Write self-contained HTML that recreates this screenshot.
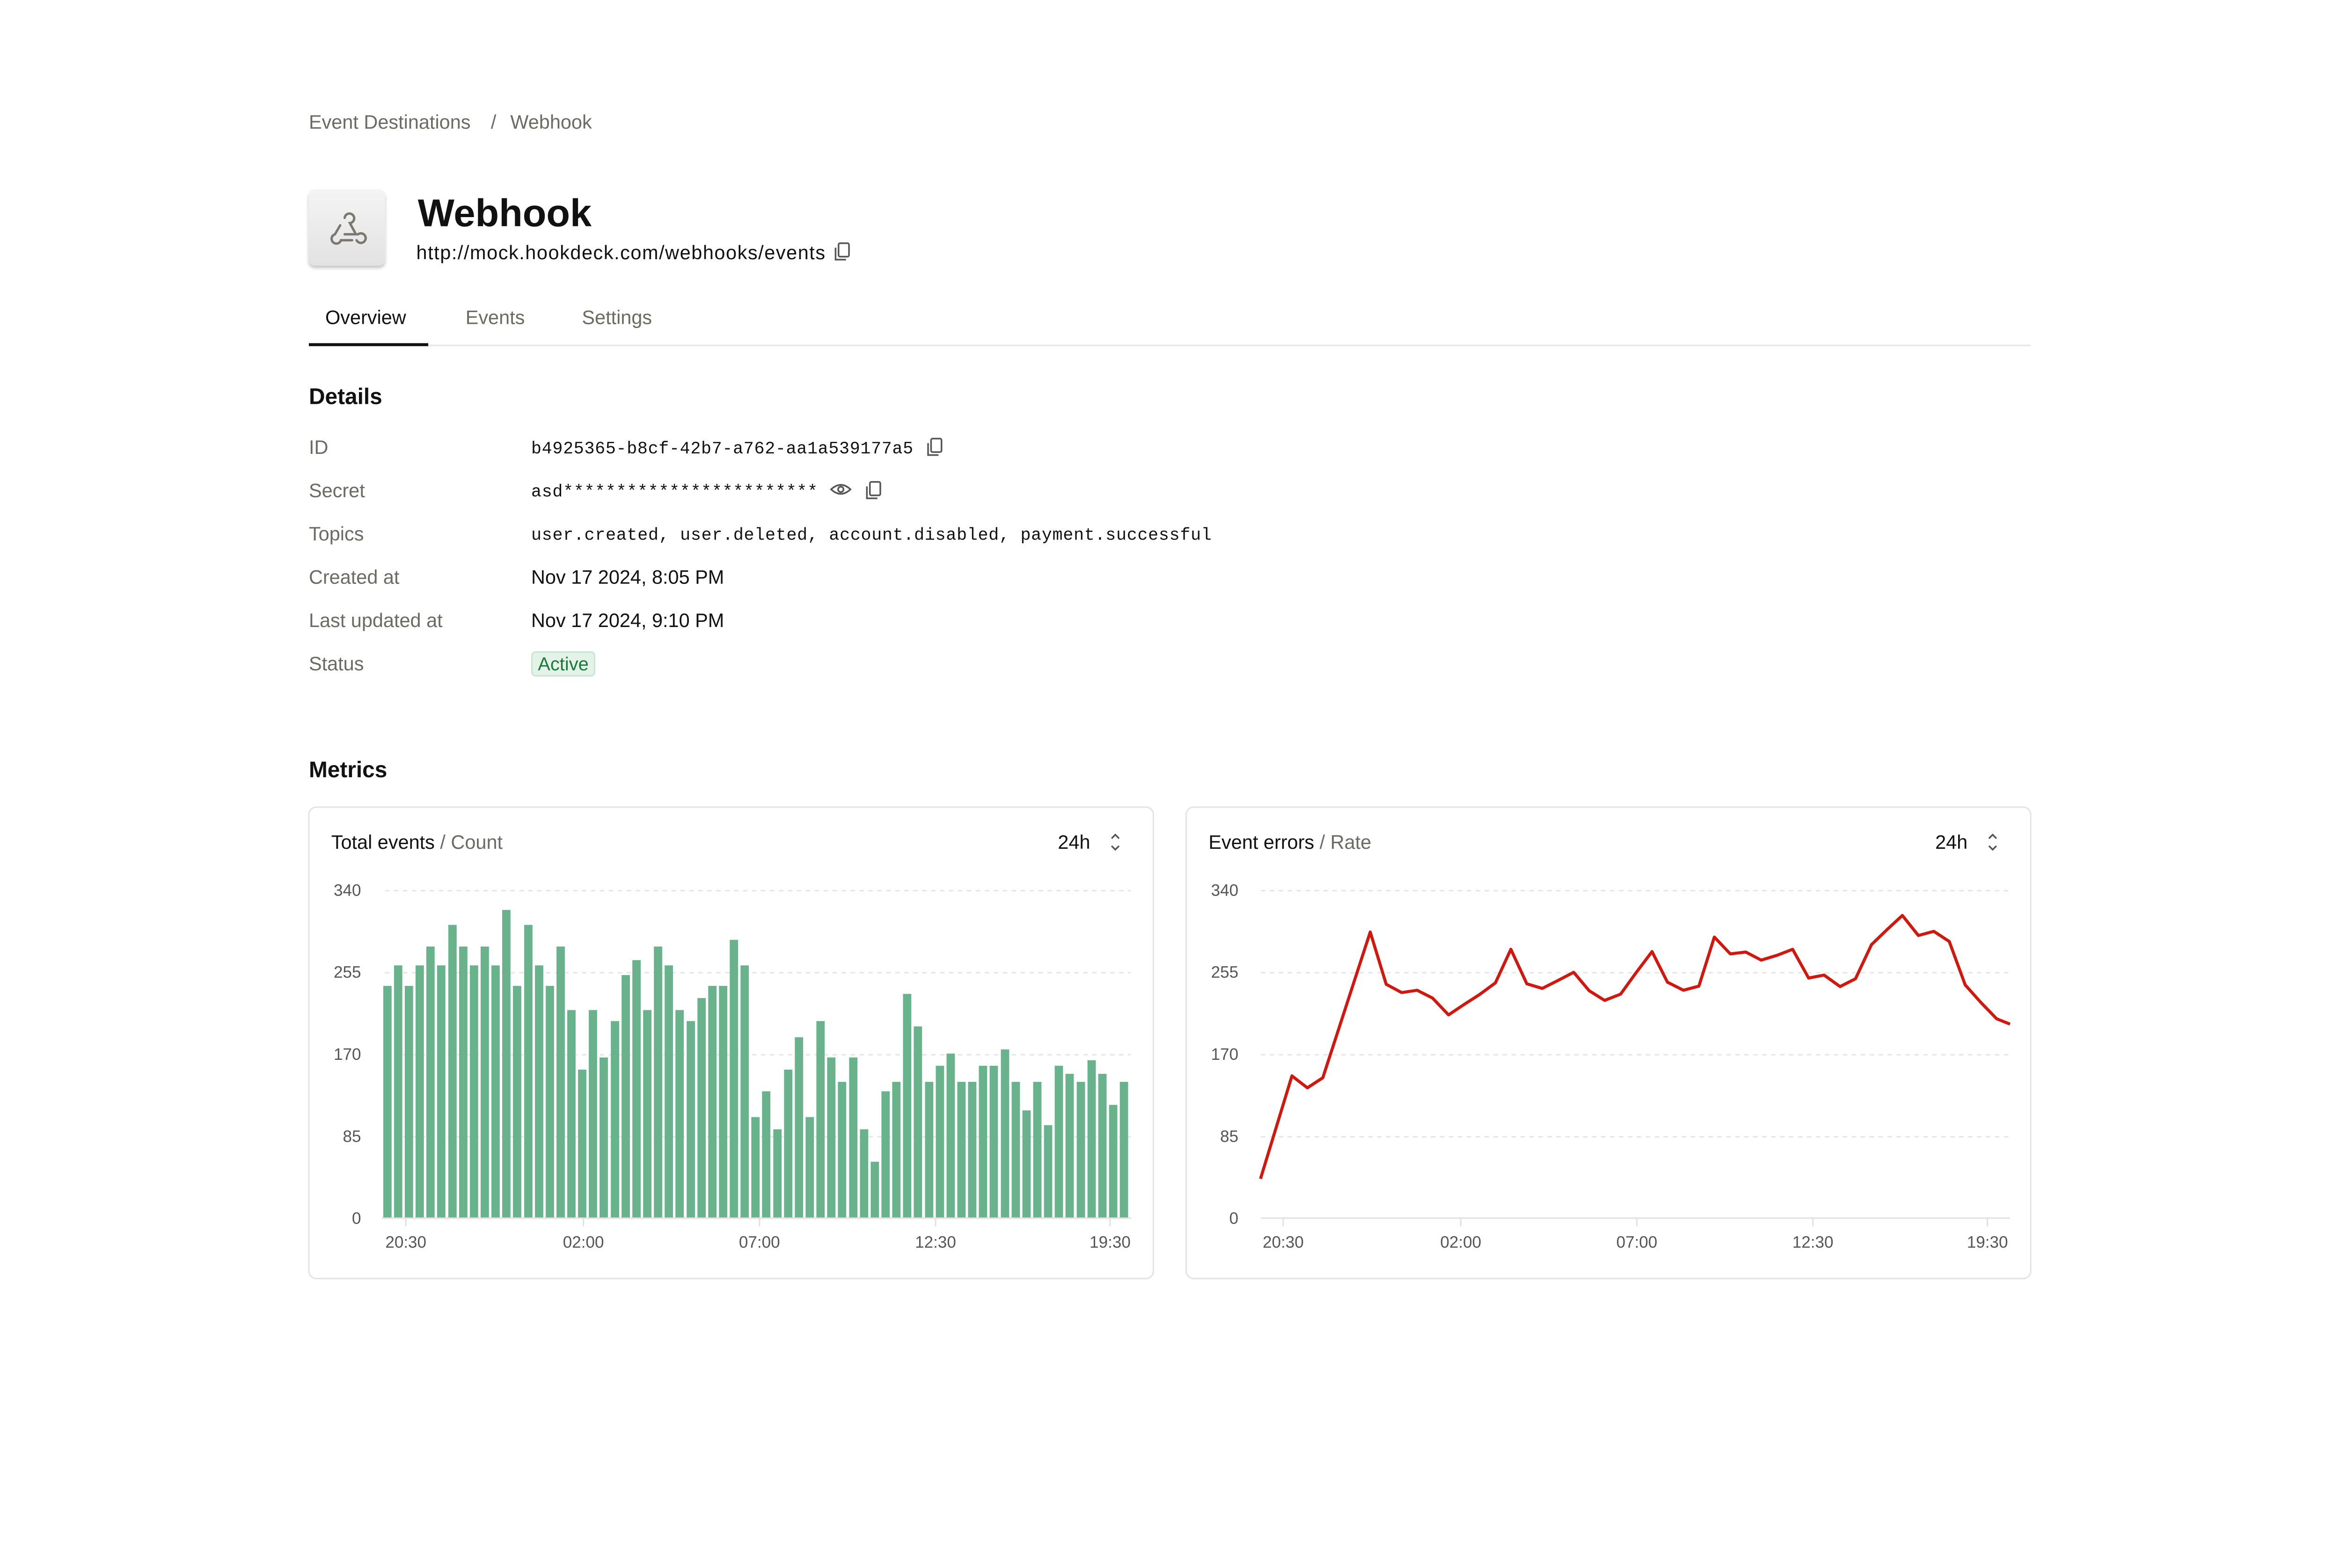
<!DOCTYPE html>
<html><head><meta charset="utf-8"><style>
html,body{margin:0;padding:0;background:#fff;}
svg{display:block}
text{font-family:"Liberation Sans",sans-serif;dominant-baseline:middle}
.m{font-family:"Liberation Mono",monospace}
</style></head><body>
<svg width="5184" height="3351" viewBox="0 0 1626 1051" xmlns="http://www.w3.org/2000/svg">
<rect width="1626" height="1051" fill="#fff"/>
<g transform="translate(0,0.8)">
<text x="207" y="82" font-size="13" fill="#6b6a63">Event Destinations</text>
<text x="329" y="82" font-size="13" fill="#6b6a63">/</text>
<text x="342" y="82" font-size="13" fill="#6b6a63">Webhook</text>
</g>
<defs><linearGradient id="g" x1="0" y1="0" x2="0" y2="1"><stop offset="0" stop-color="#f4f4f4"/><stop offset="1" stop-color="#e2e2e2"/></linearGradient>
<filter id="sh" x="-20%" y="-20%" width="140%" height="150%"><feDropShadow dx="0" dy="1.5" stdDeviation="1.2" flood-color="#000" flood-opacity="0.25"/></filter></defs>
<rect x="207" y="127" width="51" height="51" rx="4" fill="url(#g)" filter="url(#sh)"/>
<g fill="none" stroke="#7a7870" stroke-width="1.6" stroke-linecap="round">
<path d="M231 146 a3.2 3.2 0 1 1 3.5 3.5 L238 156"/>
<path d="M228 151 L224.5 157 a3.2 3.2 0 1 0 4 4 L236 161"/>
<path d="M231 157 L240 157 a3.2 3.2 0 1 1 -1 4"/>
</g>
<g transform="translate(0,0.8)">
<text x="280" y="144" font-size="26" font-weight="bold" fill="#111">Webhook</text>
<text x="279" y="169.5" font-size="13" fill="#111" textLength="274">http://mock.hookdeck.com/webhooks/events</text>
<text x="218" y="213" font-size="13" fill="#111">Overview</text>
<text x="312" y="213" font-size="13" fill="#6b6a63">Events</text>
<text x="390" y="213" font-size="13" fill="#6b6a63">Settings</text>
<text x="207" y="266" font-size="15" font-weight="bold" fill="#111">Details</text>
<g font-size="13" fill="#6b6a63">
<text x="207" y="300">ID</text><text x="207" y="329">Secret</text><text x="207" y="358">Topics</text>
<text x="207" y="387">Created at</text><text x="207" y="416">Last updated at</text><text x="207" y="445">Status</text>
</g>
<g fill="#111">
<text class="m" x="356" y="300" font-size="11.5" textLength="256">b4925365-b8cf-42b7-a762-aa1a539177a5</text>
<text class="m" x="356" y="329" font-size="11.5" textLength="192">asd************************</text>
<text class="m" x="356" y="358" font-size="11.5" textLength="456">user.created, user.deleted, account.disabled, payment.successful</text>
<text x="356" y="387" font-size="13">Nov 17 2024, 8:05 PM</text>
<text x="356" y="416" font-size="13">Nov 17 2024, 9:10 PM</text>
</g>
</g>
<g fill="none" stroke="#555" stroke-width="1.1"><rect x="562" y="163" width="7" height="9" rx="1"/><path d="M560 166 v8 h7"/></g>
<rect x="207" y="231" width="1154" height="1" fill="#e6e6e6"/>
<rect x="207" y="230" width="80" height="2" fill="#111"/>
<g fill="none" stroke="#555" stroke-width="1.1"><rect x="624" y="294" width="7" height="9" rx="1"/><path d="M622 297 v8 h7"/>
<rect x="583" y="323" width="7" height="9" rx="1"/><path d="M581 326 v8 h7"/>
<path d="M557 328 q6.5 -6 13 0 q-6.5 6 -13 0z"/><circle cx="563.5" cy="328" r="1.8"/></g>
<rect x="356.5" y="437" width="42" height="16" rx="2.5" fill="#e3f3e7" stroke="#c9e6d1" stroke-width="1"/>
<text x="377.5" y="446" font-size="12.5" fill="#1b7a3a" text-anchor="middle">Active</text>
<text x="207" y="517" font-size="15" font-weight="bold" fill="#111">Metrics</text>
<rect x="207" y="541" width="566" height="316" rx="5" fill="#fff" stroke="#e4e4e4"/>
<rect x="795" y="541" width="566" height="316" rx="5" fill="#fff" stroke="#e4e4e4"/>
<text x="222" y="565.5" font-size="13" fill="#111">Total events <tspan fill="#6b6a63">/ Count</tspan></text>
<text x="810" y="565.5" font-size="13" fill="#111">Event errors <tspan fill="#6b6a63">/ Rate</tspan></text>
<text x="709" y="565.5" font-size="13" fill="#111">24h</text>
<text x="1297" y="565.5" font-size="13" fill="#111">24h</text>
<g fill="none" stroke="#555" stroke-width="1.1"><path d="M745 562 l2.5 -2.5 l2.5 2.5 M745 567 l2.5 2.5 l2.5 -2.5"/><path d="M1333 562 l2.5 -2.5 l2.5 2.5 M1333 567 l2.5 2.5 l2.5 -2.5"/></g>
<g stroke="#e6e6e6" stroke-width="1" stroke-dasharray="3 3">
<path d="M258 597H758M258 652H758M258 707H758M258 762H758"/>
<path d="M845 597H1347M845 652H1347M845 707H1347M845 762H1347"/>
</g>
<g stroke="#e2e2e2" stroke-width="1"><path d="M256 816.5H758M845 816.5H1347"/>
<path d="M272 816v6M391 816v6M509 816v6M627 816v6M744 816v6M860 816v6M979 816v6M1097 816v6M1215 816v6M1332 816v6"/></g>
<g font-size="11" fill="#555" text-anchor="end">
<text x="242" y="597.5">340</text><text x="242" y="652.5">255</text><text x="242" y="707.5">170</text><text x="242" y="762.5">85</text><text x="242" y="817.5">0</text>
<text x="830" y="597.5">340</text><text x="830" y="652.5">255</text><text x="830" y="707.5">170</text><text x="830" y="762.5">85</text><text x="830" y="817.5">0</text>
</g>
<g font-size="11" fill="#555" text-anchor="middle">
<text x="272" y="833.5">20:30</text><text x="391" y="833.5">02:00</text><text x="509" y="833.5">07:00</text><text x="627" y="833.5">12:30</text><text x="744" y="833.5">19:30</text>
<text x="860" y="833.5">20:30</text><text x="979" y="833.5">02:00</text><text x="1097" y="833.5">07:00</text><text x="1215" y="833.5">12:30</text><text x="1332" y="833.5">19:30</text>
</g>
<g transform="translate(801.6,590) scale(0.357,0.1543)">
<polyline fill="none" stroke="#d0180f" stroke-width="6.5" vector-effect="non-scaling-stroke" stroke-linejoin="round"
points="121,1297 180,850 209,902 238,858 327,225 357,452 386,488 415,478 444,512 474,585 503,540 532,497 562,446 591,300 621,450 650,470 679,436 709,400 738,480 767,522 797,495 826,402 856,310 885,443 915,478 944,460 973,247 1003,320 1032,312 1061,347 1091,326 1120,300 1150,425 1179,412 1209,462 1238,428 1268,280 1297,215 1326,153 1356,240 1385,222 1414,266 1444,455 1473,530 1503,602 1528,625"/>
</g>
<g transform="translate(248,590) scale(0.328,0.1543)" fill="#68b38b">
<rect x="27" y="459" width="17" height="1006"/><rect x="49" y="370" width="17" height="1095"/><rect x="71" y="459" width="17" height="1006"/><rect x="93" y="370" width="17" height="1095"/><rect x="115" y="288" width="17" height="1177"/><rect x="137" y="370" width="17" height="1095"/><rect x="160" y="194" width="17" height="1271"/><rect x="182" y="288" width="17" height="1177"/><rect x="204" y="370" width="17" height="1095"/><rect x="226" y="288" width="17" height="1177"/><rect x="248" y="370" width="17" height="1095"/><rect x="270" y="129" width="17" height="1336"/><rect x="292" y="459" width="17" height="1006"/><rect x="315" y="194" width="17" height="1271"/><rect x="337" y="370" width="17" height="1095"/><rect x="359" y="459" width="17" height="1006"/><rect x="381" y="288" width="17" height="1177"/><rect x="403" y="564" width="17" height="901"/><rect x="425" y="823" width="17" height="642"/><rect x="447" y="564" width="17" height="901"/><rect x="469" y="770" width="17" height="695"/><rect x="492" y="612" width="17" height="853"/><rect x="514" y="412" width="17" height="1053"/><rect x="536" y="347" width="17" height="1118"/><rect x="558" y="564" width="17" height="901"/><rect x="580" y="288" width="17" height="1177"/><rect x="602" y="370" width="17" height="1095"/><rect x="624" y="564" width="17" height="901"/><rect x="647" y="612" width="17" height="853"/><rect x="669" y="512" width="17" height="953"/><rect x="691" y="459" width="17" height="1006"/><rect x="713" y="459" width="17" height="1006"/><rect x="735" y="259" width="17" height="1206"/><rect x="757" y="370" width="17" height="1095"/><rect x="779" y="1029" width="17" height="436"/><rect x="801" y="917" width="17" height="548"/><rect x="824" y="1082" width="17" height="383"/><rect x="846" y="823" width="17" height="642"/><rect x="868" y="682" width="17" height="783"/><rect x="890" y="1029" width="17" height="436"/><rect x="912" y="612" width="17" height="853"/><rect x="934" y="770" width="17" height="695"/><rect x="956" y="876" width="17" height="589"/><rect x="979" y="770" width="17" height="695"/><rect x="1001" y="1082" width="17" height="383"/><rect x="1023" y="1223" width="17" height="242"/><rect x="1045" y="917" width="17" height="548"/><rect x="1067" y="876" width="17" height="589"/><rect x="1089" y="494" width="17" height="971"/><rect x="1111" y="635" width="17" height="830"/><rect x="1134" y="876" width="17" height="589"/><rect x="1156" y="806" width="17" height="659"/><rect x="1178" y="753" width="17" height="712"/><rect x="1200" y="876" width="17" height="589"/><rect x="1222" y="876" width="17" height="589"/><rect x="1244" y="806" width="17" height="659"/><rect x="1266" y="806" width="17" height="659"/><rect x="1289" y="735" width="17" height="730"/><rect x="1311" y="876" width="17" height="589"/><rect x="1333" y="1000" width="17" height="465"/><rect x="1355" y="876" width="17" height="589"/><rect x="1377" y="1064" width="17" height="401"/><rect x="1399" y="806" width="17" height="659"/><rect x="1421" y="841" width="17" height="624"/><rect x="1444" y="876" width="17" height="589"/><rect x="1466" y="782" width="17" height="683"/><rect x="1488" y="841" width="17" height="624"/><rect x="1510" y="976" width="17" height="489"/><rect x="1532" y="876" width="17" height="589"/>
</g>
</svg>
</body></html>
